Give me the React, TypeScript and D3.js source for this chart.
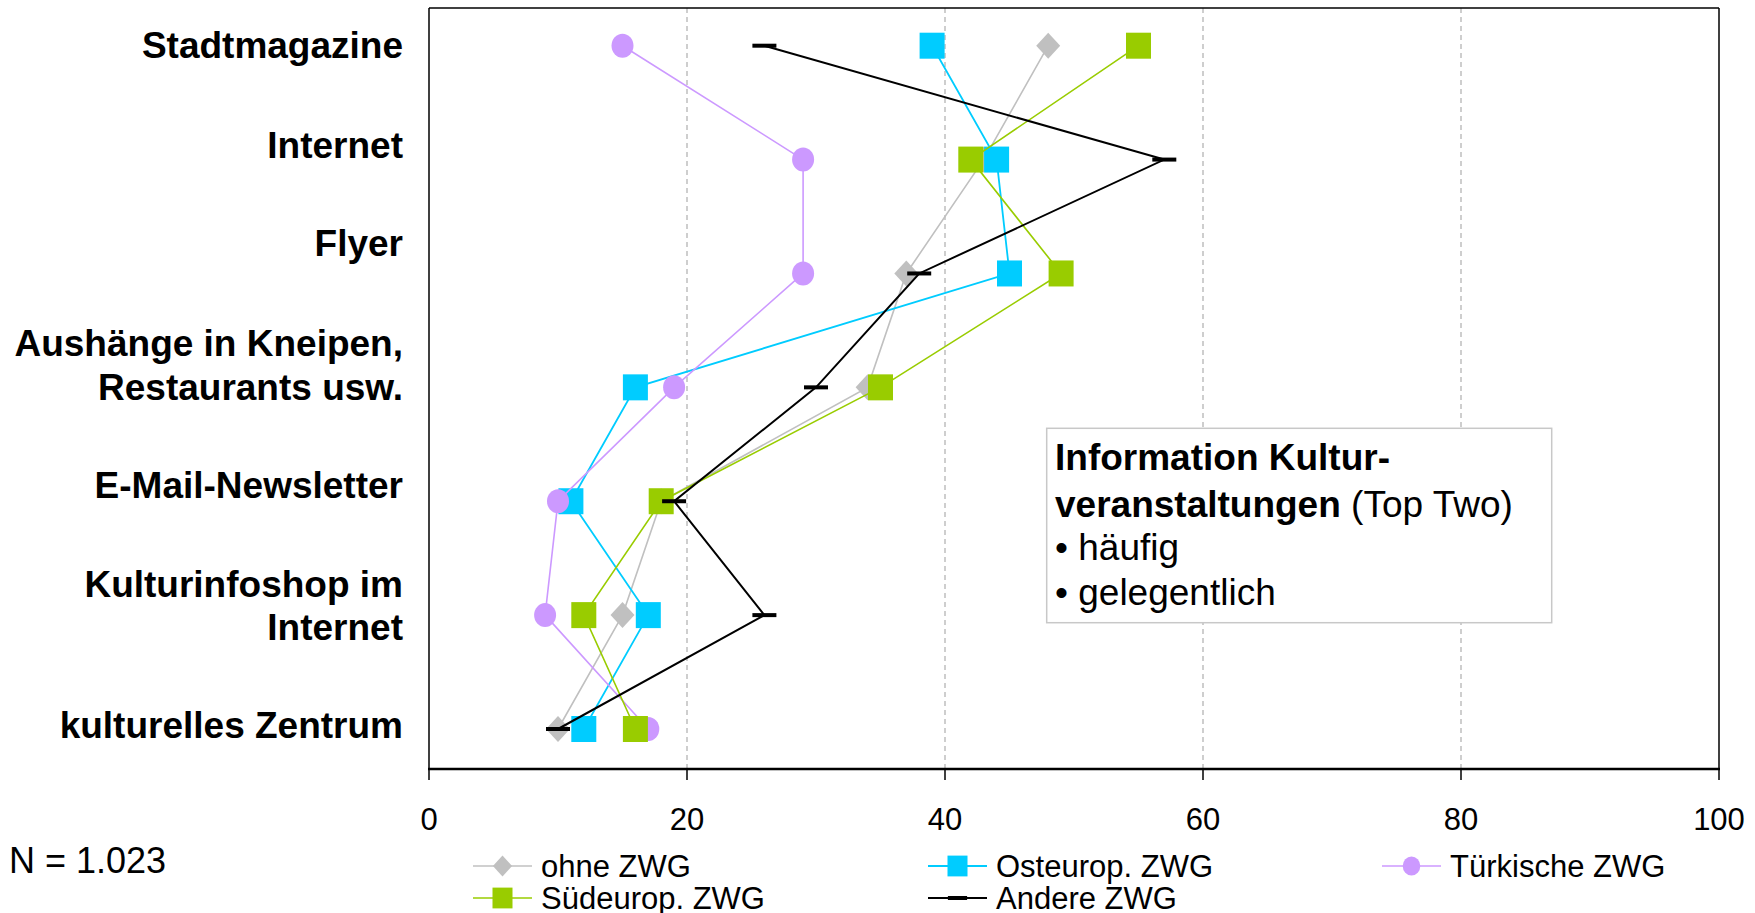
import React from "react";
import * as d3 from "d3";

// ---------- data ----------
const categories = [
  "Stadtmagazine",
  "Internet",
  "Flyer",
  "Aushänge in Kneipen, Restaurants usw.",
  "E-Mail-Newsletter",
  "Kulturinfoshop im Internet",
  "kulturelles Zentrum",
];
const categoryLabelLines = [
  ["Stadtmagazine"],
  ["Internet"],
  ["Flyer"],
  ["Aushänge in Kneipen,", "Restaurants usw."],
  ["E-Mail-Newsletter"],
  ["Kulturinfoshop im", "Internet"],
  ["kulturelles Zentrum"],
];
const ohneZWG = [48, 43, 37, 34, 18, 15, 10];
const osteuropZWG = [39, 44, 45, 16, 11, 17, 12];
const tuerkischeZWG = [15, 29, 29, 19, 10, 9, 17];
const suedeuropZWG = [55, 42, 49, 35, 18, 12, 16];
const andereZWG = [26, 57, 38, 30, 19, 26, 10];
const seriesNames = ["ohne ZWG", "Osteurop. ZWG", "Türkische ZWG", "Südeurop. ZWG", "Andere ZWG"];
const xTicks = [0, 20, 40, 60, 80, 100];
const gridTicks = [20, 40, 60, 80];

// ---------- layout ----------
const W = 1755;
const H = 913;
const PLOT = { left: 429, right: 1719, top: 8, bottom: 769 };
const LABEL_CENTER_Y = [45, 144.5, 243, 364.5, 485, 605, 725];
const FONT = "'Liberation Sans', Arial, Helvetica, sans-serif";

type Marker = "diamond" | "square" | "circle" | "dash";
const series = [
  { name: seriesNames[0], values: ohneZWG, color: "#C0C0C0", marker: "diamond" as Marker, lw: 1.6 },
  { name: seriesNames[1], values: osteuropZWG, color: "#00CCFF", marker: "square" as Marker, lw: 1.8 },
  { name: seriesNames[2], values: tuerkischeZWG, color: "#CC99FF", marker: "circle" as Marker, lw: 1.6 },
  { name: seriesNames[3], values: suedeuropZWG, color: "#99CC00", marker: "square" as Marker, lw: 1.6 },
  { name: seriesNames[4], values: andereZWG, color: "#000000", marker: "dash" as Marker, lw: 2 },
];

function MarkerShape({ type, cx, cy, color, s = 1 }: { type: Marker; cx: number; cy: number; color: string; s?: number }) {
  if (type === "diamond") {
    const hw = 12 * s, hh = 13 * s;
    return <path d={`M${cx},${cy - hh}L${cx + hw},${cy}L${cx},${cy + hh}L${cx - hw},${cy}Z`} fill={color} />;
  }
  if (type === "square") {
    const w = 25 * s, h = 26 * s;
    return <rect x={cx - w / 2} y={cy - h / 2} width={w} height={h} fill={color} />;
  }
  if (type === "circle") {
    return <ellipse cx={cx} cy={cy} rx={11 * s} ry={12 * s} fill={color} />;
  }
  const w = 24 * s;
  return <rect x={cx - w / 2} y={cy - 2} width={w} height={4} fill={color} />;
}

export default function App() {
  const x = d3.scaleLinear().domain([0, 100]).range([PLOT.left, PLOT.right]);
  const y = d3.scalePoint<string>().domain(categories).range([45.7, 729]);

  const line = d3
    .line<number>()
    .x((d) => x(d))
    .y((_, i) => y(categories[i]) as number);

  const legendCols = [473, 928, 1382];
  const legendRows = [866, 898];

  return (
    <svg
      width={W}
      height={H}
      style={{ position: "absolute", left: 0, top: 0, display: "block", background: "#fff" }}
      fontFamily={FONT}
    >
      <rect x={0} y={0} width={W} height={H} fill="#fff" />
      {/* grid lines */}
      {gridTicks.map((t) => (
        <line
          key={t}
          x1={x(t)}
          x2={x(t)}
          y1={PLOT.top}
          y2={PLOT.bottom}
          stroke="#B4B4B4"
          strokeWidth={1.3}
          strokeDasharray="5,4"
        />
      ))}
      {/* frame */}
      <line x1={PLOT.left} x2={PLOT.right} y1={PLOT.top} y2={PLOT.top} stroke="#000" strokeWidth={1.5} />
      <line x1={PLOT.right} x2={PLOT.right} y1={PLOT.top} y2={PLOT.bottom} stroke="#000" strokeWidth={1.5} />
      <line x1={PLOT.left} x2={PLOT.left} y1={PLOT.top} y2={PLOT.bottom} stroke="#000" strokeWidth={1.5} />
      <line x1={PLOT.left - 1} x2={PLOT.right + 1} y1={PLOT.bottom} y2={PLOT.bottom} stroke="#000" strokeWidth={2.5} />
      {/* x ticks */}
      {xTicks.map((t) => (
        <g key={t}>
          <line x1={x(t)} x2={x(t)} y1={PLOT.bottom} y2={PLOT.bottom + 11} stroke="#000" strokeWidth={1.5} />
          <text x={x(t)} y={830} textAnchor="middle" fontSize={31} fill="#000">
            {t}
          </text>
        </g>
      ))}
      {/* category labels */}
      {categoryLabelLines.map((lines, i) => {
        const lh = 43.6;
        const c = LABEL_CENTER_Y[i];
        const start = c - ((lines.length - 1) * lh) / 2;
        return (
          <text key={i} textAnchor="end" fontSize={37} fontWeight="bold" fill="#000">
            {lines.map((ln, j) => (
              <tspan key={j} x={403} y={start + j * lh} dy="0.36em">
                {ln}
              </tspan>
            ))}
          </text>
        );
      })}
      {/* info box */}
      <rect x={1046.7} y={428.3} width={505} height={194.4} fill="#fff" stroke="#C8C8C8" strokeWidth={1.5} />
      <text x={1055} y={470} fontSize={37} fontWeight="bold" fill="#000">
        Information Kultur-
      </text>
      <text x={1055} y={516.5} fontSize={37} fill="#000">
        <tspan fontWeight="bold">veranstaltungen</tspan>
        <tspan> (Top Two)</tspan>
      </text>
      <text x={1055} y={560} fontSize={37} fill="#000">
        • häufig
      </text>
      <text x={1055} y={605} fontSize={37} fill="#000">
        • gelegentlich
      </text>
      {/* series */}
      {series.map((s) => (
        <g key={s.name}>
          <path d={line(s.values) || ""} fill="none" stroke={s.color} strokeWidth={s.lw} />
          {s.values.map((v, i) => (
            <MarkerShape key={i} type={s.marker} cx={x(v)} cy={y(categories[i]) as number} color={s.color} />
          ))}
        </g>
      ))}
      {/* N */}
      <text x={9} y={873} fontSize={36} fill="#000">
        N = 1.023
      </text>
      {/* legend */}
      {series.map((s, i) => {
        const lx = legendCols[i % 3];
        const ly = legendRows[Math.floor(i / 3)];
        return (
          <g key={s.name}>
            <line x1={lx} x2={lx + 59} y1={ly} y2={ly} stroke={s.color} strokeWidth={s.lw} />
            <MarkerShape type={s.marker} cx={lx + 29.5} cy={ly} color={s.color} s={0.8} />
            <text x={lx + 68} y={ly} dy="0.36em" fontSize={31} fill="#000">
              {s.name}
            </text>
          </g>
        );
      })}
    </svg>
  );
}
